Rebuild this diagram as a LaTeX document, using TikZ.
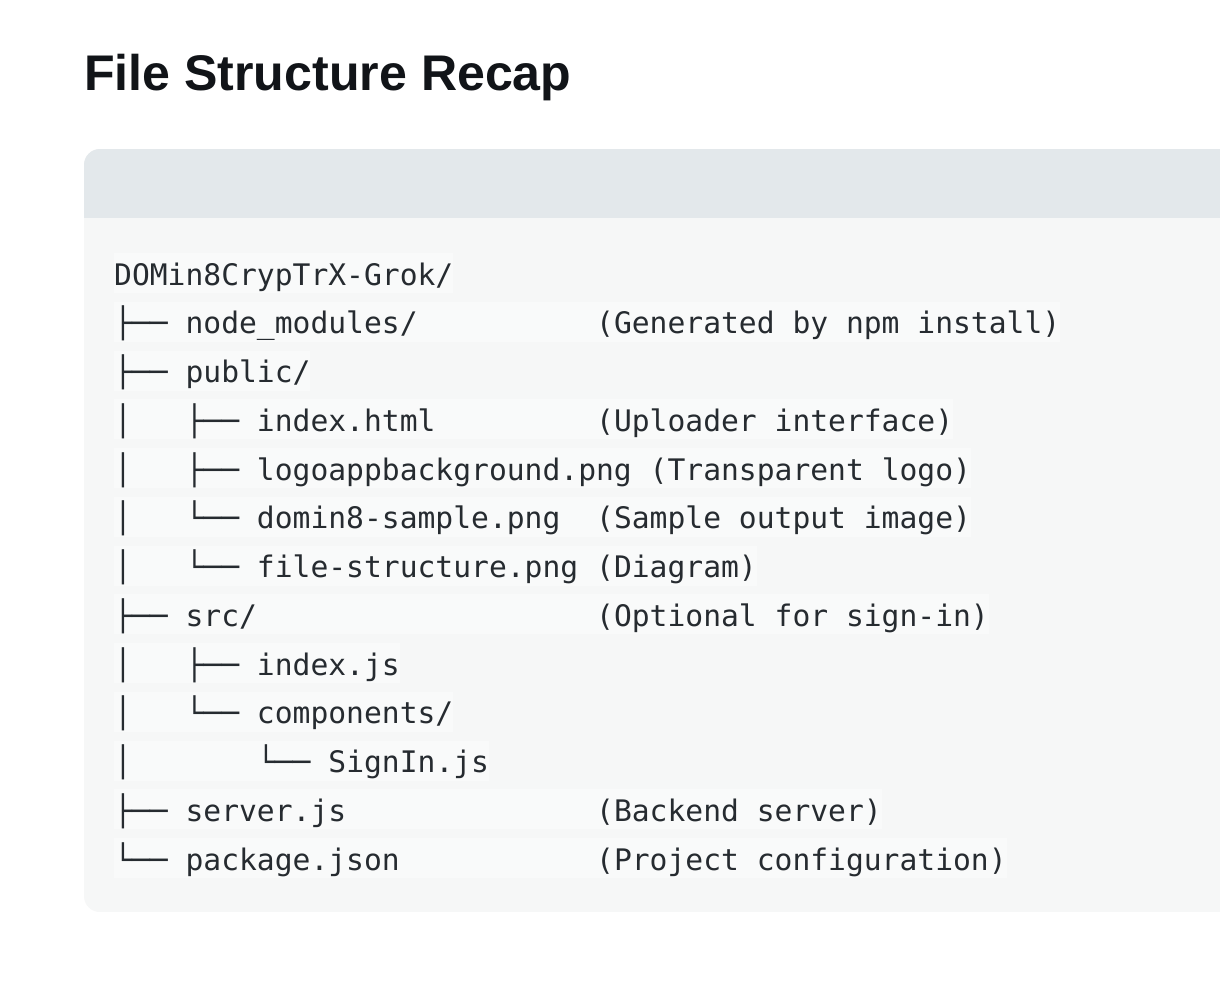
\documentclass[tikz,border=0pt]{standalone}
\usepackage{fontspec}
\setmainfont{Liberation Sans}
\newfontfamily\codefont{DejaVu Sans Mono}
\usetikzlibrary{positioning}
\definecolor{headbg}{HTML}{E3E8EB}
\definecolor{bodybg}{HTML}{F6F7F7}
\definecolor{rowbg}{HTML}{F9FAFA}
\definecolor{codefg}{HTML}{262B30}
\definecolor{titlefg}{HTML}{111418}
\tikzset{
  codetext/.style={anchor=base west, inner sep=0pt, text=codefg,
    font=\codefont\fontsize{29.65}{35}\selectfont},
  titletext/.style={anchor=base west, inner sep=0pt, text=titlefg,
    font=\bfseries\fontsize{50.1}{60}\selectfont},
  rowband/.style={fill=rowbg, draw=none},
}
\newcommand{\cw}{17.85}
\newcommand{\lh}{48.75}
\begin{document}
\begin{tikzpicture}[x=1pt, y=-1pt]
\useasboundingbox (0,0) rectangle (1220,1000);
\clip (0,0) rectangle (1220,1000);
\fill[white] (0,0) rectangle (1220,1000);
% title
\node[titletext] (title) at (84,91) {File Structure Recap};
% code block
\begin{scope}
  \clip[rounded corners=16pt] (84,149) rectangle (1280,912);
  \fill[bodybg] (84,149) rectangle (1280,912);
  \fill[headbg] (84,149) rectangle (1280,218);
\end{scope}
% row bands: line index / length in chars
\foreach \i/\n in {0/19,1/53,2/11,3/47,4/48,5/48,6/36,7/49,8/16,9/19,10/21,11/43,12/50}{
  \fill[rowband] (114,{285+\i*\lh-32}) rectangle ({114+\n*\cw},{285+\i*\lh+8});
}
% tree lines
\node[codetext] (l0)  at (114,{285+0*\lh})  {DOMin8CrypTrX-Grok/};
\node[codetext] (l1)  at (114,{285+1*\lh})  {├──\ node\_modules/};
\node[codetext] (l2)  at (114,{285+2*\lh})  {├──\ public/};
\node[codetext] (l3)  at (114,{285+3*\lh})  {│\ \ \ ├──\ index.html};
\node[codetext] (l4)  at (114,{285+4*\lh})  {│\ \ \ ├──\ logoappbackground.png};
\node[codetext] (l5)  at (114,{285+5*\lh})  {│\ \ \ └──\ domin8-sample.png};
\node[codetext] (l6)  at (114,{285+6*\lh})  {│\ \ \ └──\ file-structure.png};
\node[codetext] (l7)  at (114,{285+7*\lh})  {├──\ src/};
\node[codetext] (l8)  at (114,{285+8*\lh})  {│\ \ \ ├──\ index.js};
\node[codetext] (l9)  at (114,{285+9*\lh})  {│\ \ \ └──\ components/};
\node[codetext] (l10) at (114,{285+10*\lh}) {│\ \ \ \ \ \ \ └──\ SignIn.js};
\node[codetext] (l11) at (114,{285+11*\lh}) {├──\ server.js};
\node[codetext] (l12) at (114,{285+12*\lh}) {└──\ package.json};
% comments
\node[codetext] (c1)  at ({114+27*\cw},{285+1*\lh})  {(Generated by npm install)};
\node[codetext] (c3)  at ({114+27*\cw},{285+3*\lh})  {(Uploader interface)};
\node[codetext] (c4)  at ({114+30*\cw},{285+4*\lh})  {(Transparent logo)};
\node[codetext] (c5)  at ({114+27*\cw},{285+5*\lh})  {(Sample output image)};
\node[codetext] (c6)  at ({114+27*\cw},{285+6*\lh})  {(Diagram)};
\node[codetext] (c7)  at ({114+27*\cw},{285+7*\lh})  {(Optional for sign-in)};
\node[codetext] (c11) at ({114+27*\cw},{285+11*\lh}) {(Backend server)};
\node[codetext] (c12) at ({114+27*\cw},{285+12*\lh}) {(Project configuration)};
\end{tikzpicture}
\end{document}
